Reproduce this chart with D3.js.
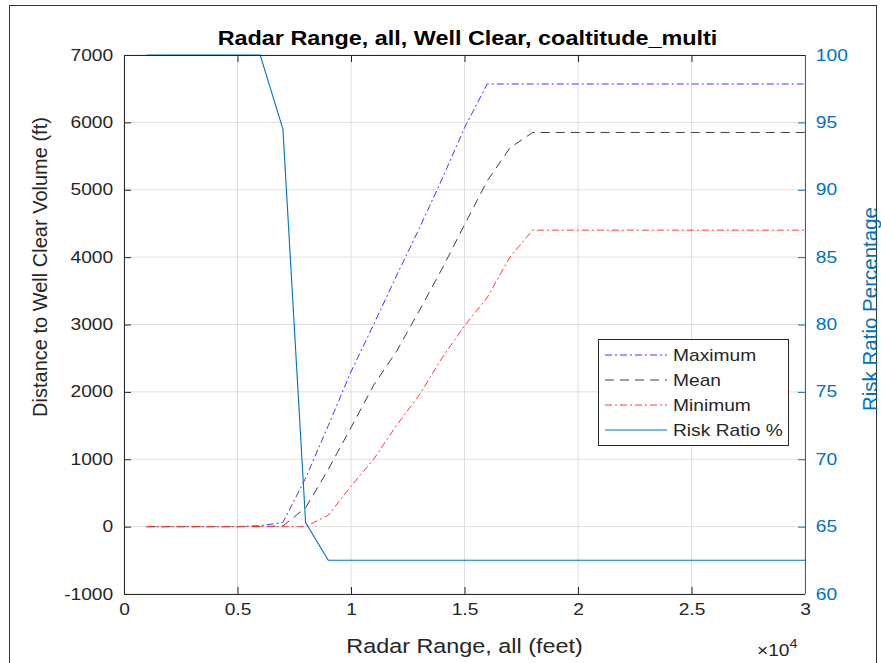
<!DOCTYPE html>
<html>
<head>
<meta charset="utf-8">
<script src="https://cdn.jsdelivr.net/npm/d3@7"></script>
<style>
  body { margin: 0; background: #fff; }
  svg { display: block; font-family: "Liberation Sans", Arial, sans-serif; }
</style>
</head>
<body>
<div id="chart"></div>
<script>
// radar range samples (feet)
const rangeFt = [1000, 2000, 3000, 4000, 5000, 6000, 7000, 8000, 9000, 10000,
  11000, 12000, 13000, 14000, 15000, 16000, 17000, 18000, 19000, 20000,
  21000, 22000, 23000, 24000, 25000, 26000, 27000, 28000, 29000, 30000];
// distance to well clear volume (ft)
const maxDist = [0, 0, 0, 0, 0, 15, 60, 720, 1500, 2300,
  3000, 3720, 4420, 5150, 5920, 6570, 6570, 6570, 6570, 6570,
  6570, 6570, 6570, 6570, 6570, 6570, 6570, 6570, 6570, 6570];
const meanDist = [0, 0, 0, 0, 0, 0, 10, 280, 850, 1470,
  2100, 2600, 3200, 3820, 4480, 5130, 5620, 5850, 5850, 5850,
  5850, 5850, 5850, 5850, 5850, 5850, 5850, 5850, 5850, 5850];
const minDist = [0, 0, 0, 0, 0, 0, 0, 0, 170, 600,
  1000, 1500, 1950, 2500, 2980, 3400, 4000, 4400, 4400, 4400,
  4400, 4400, 4400, 4400, 4400, 4400, 4400, 4400, 4400, 4400];
// risk ratio (%)
const riskRatio = [100, 100, 100, 100, 100, 100, 94.5, 65.3, 62.5, 62.5,
  62.5, 62.5, 62.5, 62.5, 62.5, 62.5, 62.5, 62.5, 62.5, 62.5,
  62.5, 62.5, 62.5, 62.5, 62.5, 62.5, 62.5, 62.5, 62.5, 62.5];

const xTicks = [0, 5000, 10000, 15000, 20000, 25000, 30000];
const leftTicks = [-1000, 0, 1000, 2000, 3000, 4000, 5000, 6000, 7000];
const rightTicks = [60, 65, 70, 75, 80, 85, 90, 95, 100];

const W = 881, H = 663;
const margin = { top: 55, right: 76, bottom: 69, left: 124 };
const iw = W - margin.left - margin.right;
const ih = H - margin.top - margin.bottom;
const sx = 1.2; // the text in the picture is a bit wide
const axisColor = "#262626";
const rightColor = "#0072bd";

const svg = d3.select("#chart").append("svg")
  .attr("width", W).attr("height", H);

svg.append("rect").attr("width", W).attr("height", H).attr("fill", "#fff");
// figure frame
svg.append("rect")
  .attr("x", 9.5).attr("y", 5.5).attr("width", 867).attr("height", 680)
  .attr("fill", "none").attr("stroke", "#333").attr("stroke-width", 1);

const g = svg.append("g").attr("transform", `translate(${margin.left},${margin.top})`);

const x = d3.scaleLinear().domain([0, 30000]).range([0, iw]);
const yL = d3.scaleLinear().domain([-1000, 7000]).range([ih, 0]);
const yR = d3.scaleLinear().domain([60, 100]).range([ih, 0]);

// grid
g.append("g").selectAll("line").data(xTicks).join("line")
  .attr("x1", d => x(d)).attr("x2", d => x(d)).attr("y1", 0).attr("y2", ih)
  .attr("stroke", "#dfdfdf");
g.append("g").selectAll("line").data(leftTicks).join("line")
  .attr("x1", 0).attr("x2", iw).attr("y1", d => yL(d)).attr("y2", d => yL(d))
  .attr("stroke", "#dfdfdf");

// series
const series = [
  { name: "Maximum", values: maxDist, color: "#3a3aff", dash: "7,3,2,3" },
  { name: "Mean", values: meanDist, color: "#404040", dash: "9,6" },
  { name: "Minimum", values: minDist, color: "#ff3a3a", dash: "7,3,2,3" },
];

const lineL = d3.line().x(d => x(d[0])).y(d => yL(d[1]));
series.forEach(s => {
  g.append("path")
    .datum(rangeFt.map((r, i) => [r, s.values[i]]))
    .attr("fill", "none")
    .attr("stroke", s.color)
    .attr("stroke-width", 1)
    .attr("stroke-dasharray", s.dash)
    .attr("d", lineL);
});

const lineR = d3.line().x(d => x(d[0])).y(d => yR(d[1]));
g.append("path")
  .datum(rangeFt.map((r, i) => [r, riskRatio[i]]))
  .attr("fill", "none")
  .attr("stroke", rightColor)
  .attr("stroke-width", 1.1)
  .attr("d", lineR);

// axes, ticks pointing inwards
function styleAxis(sel, color) {
  sel.select(".domain").remove();
  sel.selectAll(".tick line").attr("stroke", color);
  sel.selectAll(".tick text")
    .attr("fill", color)
    .style("font-size", "16px");
}

const xAxis = g.append("g").attr("transform", `translate(0,${ih})`)
  .call(d3.axisBottom(x).tickValues(xTicks).tickSizeInner(-7).tickSizeOuter(0)
    .tickPadding(10).tickFormat(d => d3.format("~g")(d / 10000)));
styleAxis(xAxis, axisColor);
xAxis.selectAll(".tick text").attr("transform", `scale(${sx},1)`);

const xTop = g.append("g")
  .call(d3.axisTop(x).tickValues(xTicks).tickSizeInner(-7).tickSizeOuter(0).tickFormat(""));
styleAxis(xTop, axisColor);

const leftAxis = g.append("g")
  .call(d3.axisLeft(yL).tickValues(leftTicks).tickSizeInner(-7).tickSizeOuter(0)
    .tickPadding(9).tickFormat(d => String(d)));
styleAxis(leftAxis, axisColor);
leftAxis.selectAll(".tick text").attr("transform", `scale(${sx},1)`);

const rightAxis = g.append("g").attr("transform", `translate(${iw},0)`)
  .call(d3.axisRight(yR).tickValues(rightTicks).tickSizeInner(-7).tickSizeOuter(0)
    .tickPadding(9).tickFormat(d => String(d)));
styleAxis(rightAxis, rightColor);
rightAxis.selectAll(".tick text").attr("transform", `scale(${sx},1)`);

// box
g.append("line").attr("x1", 0).attr("x2", iw).attr("y1", ih + 0.5).attr("y2", ih + 0.5).attr("stroke", axisColor);
g.append("line").attr("x1", 0).attr("x2", iw).attr("y1", 0.5).attr("y2", 0.5).attr("stroke", axisColor);
g.append("line").attr("x1", 0.5).attr("x2", 0.5).attr("y1", 0).attr("y2", ih).attr("stroke", axisColor);
g.append("line").attr("x1", iw + 0.5).attr("x2", iw + 0.5).attr("y1", 0).attr("y2", ih).attr("stroke", rightColor);

// titles and labels
svg.append("text")
  .attr("transform", `translate(${margin.left + iw / 2 + 3},45) scale(${sx},1)`)
  .attr("text-anchor", "middle")
  .style("font-size", "19.5px").style("font-weight", "bold").attr("fill", "#000")
  .text("Radar Range, all, Well Clear, coaltitude_multi");

svg.append("text")
  .attr("transform", `translate(${margin.left + iw / 2},653) scale(${sx},1)`)
  .attr("text-anchor", "middle")
  .style("font-size", "19.5px").attr("fill", axisColor)
  .text("Radar Range, all (feet)");

const expo = svg.append("text")
  .attr("transform", `translate(757,656) scale(${sx},1)`)
  .style("font-size", "16px").attr("fill", axisColor);
expo.append("tspan").text("×10");
expo.append("tspan").attr("dy", -8).style("font-size", "12px").text("4");

svg.append("text")
  .attr("transform", `translate(47,267) rotate(-90)`)
  .attr("text-anchor", "middle")
  .style("font-size", "20px").attr("fill", axisColor)
  .text("Distance to Well Clear Volume (ft)");

svg.append("text")
  .attr("transform", `translate(877,309) rotate(-90)`)
  .attr("text-anchor", "middle")
  .style("font-size", "20.5px").attr("fill", rightColor)
  .text("Risk Ratio Percentage");

// legend
const legendItems = [
  ...series.map(s => ({ name: s.name, color: s.color, dash: s.dash })),
  { name: "Risk Ratio %", color: rightColor, dash: null },
];
const legend = svg.append("g").attr("transform", "translate(598,339)");
legend.append("rect")
  .attr("x", 0.5).attr("y", 0.5).attr("width", 190).attr("height", 106)
  .attr("fill", "#fff").attr("stroke", axisColor);
const li = legend.selectAll(".legend-item").data(legendItems).join("g")
  .attr("class", "legend-item")
  .attr("transform", (d, i) => `translate(0,${16 + i * 25})`);
li.append("line")
  .attr("x1", 7).attr("x2", 69).attr("y1", 0).attr("y2", 0)
  .attr("stroke", d => d.color)
  .attr("stroke-width", 1)
  .attr("stroke-dasharray", d => d.dash);
li.append("text")
  .attr("transform", `translate(75,0) scale(${sx},1)`)
  .attr("dy", "0.36em")
  .style("font-size", "16px").attr("fill", axisColor)
  .text(d => d.name);
</script>
</body>
</html>
